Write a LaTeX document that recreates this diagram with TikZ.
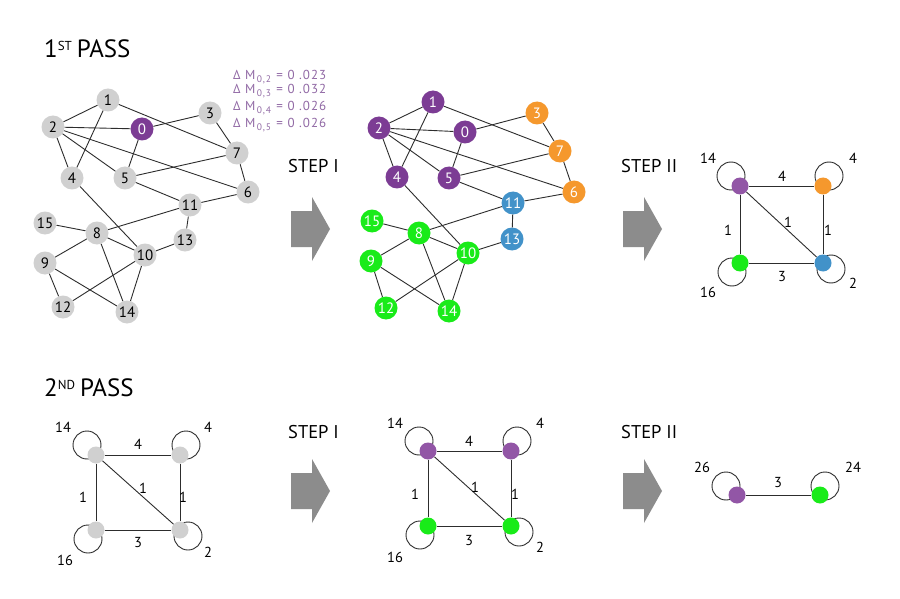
\documentclass[tikz,border=0pt]{standalone}
\usepackage{fontspec}
\setmainfont{PT Sans}
\newfontfamily\dmfont{PT Sans}[LetterSpace=8]
\usetikzlibrary{calc}
\definecolor{gcol}{RGB}{208,208,208}
\definecolor{pcol}{RGB}{124,60,148}
\definecolor{plcol}{RGB}{146,86,166}
\definecolor{ocol}{RGB}{245,152,45}
\definecolor{bcol}{RGB}{66,146,201}
\definecolor{grcol}{RGB}{25,235,25}
\definecolor{ecol}{RGB}{45,45,45}
\definecolor{dcol}{RGB}{145,105,165}
\definecolor{acol}{RGB}{140,140,140}
\begin{document}
\begin{tikzpicture}[x=1pt,y=-1pt,
  every node/.style={inner sep=0pt},
  nd/.style={circle, minimum size=23pt, font=\fontsize{15}{15}\selectfont},
  gn/.style={nd, fill=gcol, text=black},
  pn/.style={nd, fill=pcol, text=white},
  orn/.style={nd, fill=ocol, text=white},
  bn/.style={nd, fill=bcol, text=white},
  grn/.style={nd, fill=grcol, text=white},
  ln/.style={draw=ecol, line width=0.9pt},
  dot/.style={circle, minimum size=17pt},
  lab/.style={font=\fontsize{14.5}{14.5}\selectfont},
  steplbl/.style={anchor=base west, font=\fontsize{18.5}{18.5}\selectfont},
  hdr/.style={anchor=base west, font=\fontsize{25}{25}\selectfont},
  dm/.style={anchor=base west, text=dcol, font=\dmfont\fontsize{13}{13}\selectfont},
  bigarrow/.style={fill=acol}
]
\useasboundingbox (0,0) rectangle (900,599);
\fill[white] (0,0) rectangle (900,599);

% ---------- headers ----------
\node[hdr] (h1) at (44,58) {1\raisebox{7pt}{\fontsize{13}{13}\selectfont ST}\hspace{5pt}PASS};
\node[hdr] (h2) at (44,396) {2\raisebox{7pt}{\fontsize{13}{13}\selectfont ND}\hspace{5pt}PASS};

\node[steplbl] (s1) at (288,173) {STEP I};
\node[steplbl] (s2) at (621,173) {STEP II};
\node[steplbl] (s3) at (288,438) {STEP I};
\node[steplbl] (s4) at (621,438) {STEP II};

% ---------- arrows ----------
\foreach \ax/\ay in {291/229, 623/229, 291/491, 623/491}{
  \fill[bigarrow] (\ax,\ay-18) -- (\ax+21,\ay-18) -- (\ax+21,\ay-32) -- (\ax+39,\ay)
    -- (\ax+21,\ay+32) -- (\ax+21,\ay+18) -- (\ax,\ay+18) -- cycle;
}

% ---------- delta M ----------
\newcommand{\dmsub}[1]{\raisebox{-3pt}{\fontsize{9.5}{9.5}\selectfont\,#1}\hspace{1pt}}
\node[dm] (d2) at (233,80) {Δ M\dmsub{0,2} = 0 .023};
\node[dm] (d3) at (233,94) {Δ M\dmsub{0,3} = 0 .032};
\node[dm] (d4) at (233,111) {Δ M\dmsub{0,4} = 0 .026};
\node[dm] (d5) at (233,128) {Δ M\dmsub{0,5} = 0 .026};

% ---------- graph A (gray) ----------
\foreach \n/\x/\y/\s in {0/142/129/pn, 1/108/100/gn, 2/53/127/gn, 3/210/113/gn,
  4/72/178/gn, 5/125/178/gn, 6/248/192/gn, 7/237/153/gn, 8/97/233/gn,
  9/45/263/gn, 10/145/255/gn, 11/190/205/gn, 12/63/307/gn, 13/185/240/gn,
  14/127/312/gn, 15/45/223/gn}{
  \node[\s] (a\n) at (\x,\y) {\n};
}
% ---------- graph B (coloured) ----------
\foreach \n/\x/\y/\s in {0/465/132/pn, 1/433/102/pn, 2/379/128/pn, 3/537/113/orn,
  4/397/177/pn, 5/449/178/pn, 6/574/192/orn, 7/560/151/orn, 8/419/233/grn,
  9/371/261/grn, 10/468/253/grn, 11/513/203/bn, 12/386/308/grn, 13/512/239/bn,
  14/449/311/grn, 15/372/221/grn}{
  \node[\s] (b\n) at (\x,\y) {\n};
}
\foreach \u/\v in {1/2, 1/4, 1/7, 2/0, 2/4, 2/5, 2/6, 0/3, 0/5, 3/7, 5/7, 5/11,
  7/6, 6/11, 11/8, 11/13, 13/10, 4/10, 15/8, 8/10, 8/9, 8/14, 9/12, 9/14, 10/12, 10/14}{
  \draw[ln] (a\u) -- (a\v);
  \draw[ln] (b\u) -- (b\v);
}

% ---------- graph C (top right) ----------
\coordinate (cP) at (740,186);
\coordinate (cO) at (823,186);
\coordinate (cG) at (740,263);
\coordinate (cB) at (823,263);
\draw[ln] ($(cP)+(-9,-10)$) circle[radius=14];
\draw[ln] ($(cO)+(6,-10)$) circle[radius=14];
\draw[ln] ($(cG)+(-8,9)$) circle[radius=14];
\draw[ln] ($(cB)+(8,6)$) circle[radius=14];
\node[dot, fill=plcol] (CP) at (cP) {};
\node[dot, fill=ocol] (CO) at (cO) {};
\node[dot, fill=grcol] (CG) at (cG) {};
\node[dot, fill=bcol] (CB) at (cB) {};
\draw[ln] (CP) -- (CO);
\draw[ln] (CP) -- (CG);
\draw[ln] (CO) -- (CB);
\draw[ln] (CG) -- (CB);
\draw[ln] (CP) -- (CB);
\node[lab] (cl1) at (708,158) {14};
\node[lab] (cl2) at (853,158) {4};
\node[lab] (cl3) at (708,292) {16};
\node[lab] (cl4) at (853,283) {2};
\node[lab] (ce1) at (782,176) {4};
\node[lab] (ce2) at (728,230) {1};
\node[lab] (ce3) at (788,222) {1};
\node[lab] (ce4) at (828,230) {1};
\node[lab] (ce5) at (782,277) {3};

% ---------- graph D (2nd pass, gray) ----------
\coordinate (dP) at (96,455);
\coordinate (dO) at (180,455);
\coordinate (dG) at (96,530);
\coordinate (dB) at (180,530);
\draw[ln] ($(dP)+(-9,-10)$) circle[radius=14];
\draw[ln] ($(dO)+(6,-10)$) circle[radius=14];
\draw[ln] ($(dG)+(-8,9)$) circle[radius=14];
\draw[ln] ($(dB)+(8,6)$) circle[radius=14];
\node[dot, fill=gcol] (DP) at (dP) {};
\node[dot, fill=gcol] (DO) at (dO) {};
\node[dot, fill=gcol] (DG) at (dG) {};
\node[dot, fill=gcol] (DB) at (dB) {};
\draw[ln] (DP) -- (DO);
\draw[ln] (DP) -- (DG);
\draw[ln] (DO) -- (DB);
\draw[ln] (DG) -- (DB);
\draw[ln] (DP) -- (DB);
\node[lab] (dl1) at (63,427) {14};
\node[lab] (dl2) at (208,427) {4};
\node[lab] (dl3) at (65,560) {16};
\node[lab] (dl4) at (208,552) {2};
\node[lab] (de1) at (138,444) {4};
\node[lab] (de2) at (83,497) {1};
\node[lab] (de3) at (143,488) {1};
\node[lab] (de4) at (183,497) {1};
\node[lab] (de5) at (138,543) {3};

% ---------- graph E (2nd pass, step I) ----------
\coordinate (eP) at (428,451);
\coordinate (eO) at (511,451);
\coordinate (eG) at (428,526);
\coordinate (eB) at (511,526);
\draw[ln] ($(eP)+(-9,-10)$) circle[radius=14];
\draw[ln] ($(eO)+(6,-10)$) circle[radius=14];
\draw[ln] ($(eG)+(-8,9)$) circle[radius=14];
\draw[ln] ($(eB)+(8,6)$) circle[radius=14];
\node[dot, fill=plcol] (EP) at (eP) {};
\node[dot, fill=plcol] (EO) at (eO) {};
\node[dot, fill=grcol] (EG) at (eG) {};
\node[dot, fill=grcol] (EB) at (eB) {};
\draw[ln] (EP) -- (EO);
\draw[ln] (EP) -- (EG);
\draw[ln] (EO) -- (EB);
\draw[ln] (EG) -- (EB);
\draw[ln] (EP) -- (EB);
\node[lab] (el1) at (395,423) {14};
\node[lab] (el2) at (540,423) {4};
\node[lab] (el3) at (395,557) {16};
\node[lab] (el4) at (540,547) {2};
\node[lab] (ee1) at (469,441) {4};
\node[lab] (ee2) at (415,494) {1};
\node[lab] (ee3) at (475,487) {1};
\node[lab] (ee4) at (515,494) {1};
\node[lab] (ee5) at (469,541) {3};

% ---------- graph F (2nd pass, step II) ----------
\coordinate (fP) at (737,495);
\coordinate (fG) at (820,495);
\draw[ln] ($(fP)+(-11,-9)$) circle[radius=14];
\draw[ln] ($(fG)+(5,-9)$) circle[radius=14];
\node[dot, fill=plcol] (FP) at (fP) {};
\node[dot, fill=grcol] (FG) at (fG) {};
\draw[ln] (FP) -- (FG);
\node[lab] (fl1) at (702,467) {26};
\node[lab] (fl2) at (853,467) {24};
\node[lab] (fe1) at (778,483) {3};
\end{tikzpicture}
\end{document}
